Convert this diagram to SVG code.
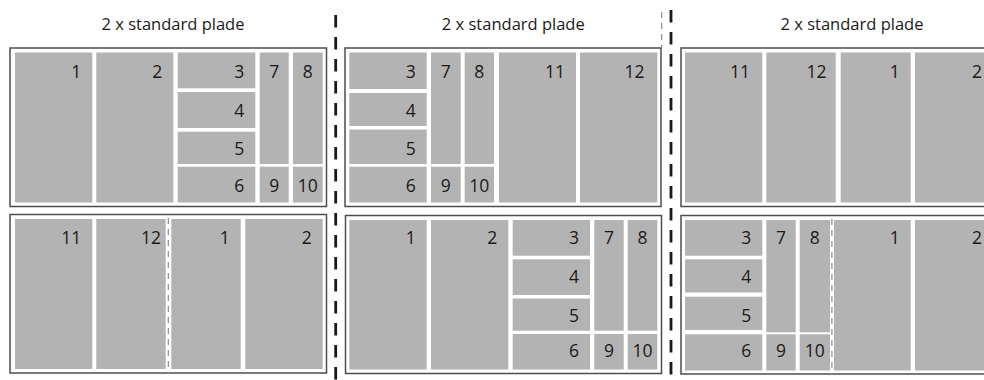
<svg xmlns="http://www.w3.org/2000/svg" width="984" height="380" viewBox="0 0 984 380">
<style>
.bg{fill:#ffffff}
.frame{fill:#ffffff;stroke:#4d4d4d;stroke-width:1.5}
.c{fill:#b3b3b3}
.t{font-family:"Open Sans","Liberation Sans",sans-serif;font-size:17.5px;fill:#1a1a1a;text-anchor:end}
.tc{font-family:"Open Sans","Liberation Sans",sans-serif;font-size:17.5px;fill:#1a1a1a;text-anchor:middle}
.title{font-family:"Open Sans","Liberation Sans",sans-serif;font-size:16.5px;fill:#1a1a1a;text-anchor:middle}
.sep{fill:none;stroke:#1a1a1a;stroke-width:2.8;stroke-dasharray:12.5 9.5}
.cut{fill:none;stroke:#8a8a8a;stroke-width:1.2;stroke-dasharray:6 5}
</style>
<rect class="bg" x="0" y="0" width="984" height="380"/>

<g id="titles">
<text class="title" x="173" y="30">2 x standard plade</text>
<text class="title" x="513.3" y="30">2 x standard plade</text>
<text class="title" x="852" y="30">2 x standard plade</text>
</g>

<!-- Panel 1 top -->
<g id="p1-top">
<rect class="frame" x="10" y="48" width="316.5" height="158.5"/>
<rect class="c" x="15" y="52.5" width="77.3" height="150"/>
<rect class="c" x="96.3" y="52.5" width="77" height="150"/>
<rect class="c" x="177.7" y="52.5" width="77.6" height="35.8"/>
<rect class="c" x="177.7" y="92" width="77.6" height="36"/>
<rect class="c" x="177.7" y="131.7" width="77.6" height="32.3"/>
<rect class="c" x="177.7" y="166.7" width="77.6" height="35.8"/>
<rect class="c" x="259.7" y="52.5" width="29" height="111.5"/>
<rect class="c" x="293" y="52.5" width="29.7" height="111.5"/>
<rect class="c" x="259.7" y="166.7" width="29" height="35.8"/>
<rect class="c" x="293" y="166.7" width="29.7" height="35.8"/>
<text class="t" x="81.3" y="78.3">1</text>
<text class="t" x="162.3" y="78.3">2</text>
<text class="t" x="244.3" y="78.3">3</text>
<text class="t" x="244.3" y="116.7">4</text>
<text class="t" x="244.3" y="155">5</text>
<text class="t" x="244.3" y="191.7">6</text>
<text class="tc" x="274.2" y="78.3">7</text>
<text class="tc" x="307.8" y="78.3">8</text>
<text class="tc" x="274.2" y="191.7">9</text>
<text class="tc" x="307.8" y="191.7">10</text>
</g>

<!-- Panel 1 bottom -->
<g id="p1-bottom">
<rect class="frame" x="10" y="214.5" width="316.5" height="158.5"/>
<rect class="c" x="15" y="219" width="77.3" height="150"/>
<rect class="c" x="96.3" y="219" width="69.4" height="150"/>
<rect class="c" x="171.3" y="219" width="69.4" height="150"/>
<rect class="c" x="245.3" y="219" width="77.4" height="150"/>
<text class="t" x="81.3" y="243.5">11</text>
<text class="t" x="161" y="243.5">12</text>
<text class="t" x="229.7" y="243.5">1</text>
<text class="t" x="311.7" y="243.5">2</text>
</g>

<!-- Panel 2 top -->
<g id="p2-top">
<rect class="frame" x="345" y="48" width="316" height="158.5"/>
<rect class="c" x="349.3" y="52.5" width="77.4" height="36.5"/>
<rect class="c" x="349.3" y="93" width="77.4" height="33"/>
<rect class="c" x="349.3" y="129.5" width="77.4" height="34.5"/>
<rect class="c" x="349.3" y="166.7" width="77.4" height="35.8"/>
<rect class="c" x="431" y="52.5" width="29.7" height="111.5"/>
<rect class="c" x="464.7" y="52.5" width="29.3" height="111.5"/>
<rect class="c" x="431" y="166.7" width="29.7" height="35.8"/>
<rect class="c" x="464.7" y="166.7" width="29.3" height="35.8"/>
<rect class="c" x="499" y="52.5" width="77" height="150"/>
<rect class="c" x="580" y="52.5" width="77.3" height="150"/>
<text class="t" x="415.7" y="78.3">3</text>
<text class="t" x="415.7" y="116.7">4</text>
<text class="t" x="415.7" y="155">5</text>
<text class="t" x="415.7" y="191.7">6</text>
<text class="tc" x="445.8" y="78.3">7</text>
<text class="tc" x="479.3" y="78.3">8</text>
<text class="tc" x="445.8" y="191.7">9</text>
<text class="tc" x="479.3" y="191.7">10</text>
<text class="t" x="565" y="78.3">11</text>
<text class="t" x="644.5" y="78.3">12</text>
</g>

<!-- Panel 2 bottom -->
<g id="p2-bottom">
<rect class="frame" x="345.5" y="215.5" width="316" height="158"/>
<rect class="c" x="349.3" y="220" width="77.4" height="149.5"/>
<rect class="c" x="431" y="220" width="77.3" height="149.5"/>
<rect class="c" x="512.7" y="220" width="77.3" height="35.7"/>
<rect class="c" x="512.7" y="259.3" width="77.3" height="35.7"/>
<rect class="c" x="512.7" y="298.5" width="77.3" height="32.2"/>
<rect class="c" x="512.7" y="334" width="77.3" height="35.5"/>
<rect class="c" x="594.3" y="220" width="29.4" height="110.7"/>
<rect class="c" x="627.7" y="220" width="29.6" height="110.7"/>
<rect class="c" x="594.3" y="334" width="29.4" height="35.5"/>
<rect class="c" x="627.7" y="334" width="29.6" height="35.5"/>
<text class="t" x="415.7" y="244">1</text>
<text class="t" x="497.3" y="244">2</text>
<text class="t" x="579" y="244.3">3</text>
<text class="t" x="579" y="283.3">4</text>
<text class="t" x="579" y="321.7">5</text>
<text class="t" x="579" y="357.3">6</text>
<text class="tc" x="609" y="244.3">7</text>
<text class="tc" x="642.5" y="244.3">8</text>
<text class="tc" x="609" y="357.3">9</text>
<text class="tc" x="642.5" y="357.3">10</text>
</g>

<!-- Panel 3 top -->
<g id="p3-top">
<rect class="frame" x="681" y="48" width="316" height="158.5"/>
<rect class="c" x="685" y="52.5" width="77.3" height="150"/>
<rect class="c" x="766.3" y="52.5" width="69.4" height="150"/>
<rect class="c" x="840.7" y="52.5" width="70" height="150"/>
<rect class="c" x="915" y="52.5" width="78" height="150"/>
<text class="t" x="750" y="78.3">11</text>
<text class="t" x="826.5" y="78.3">12</text>
<text class="t" x="899.7" y="78.3">1</text>
<text class="t" x="982" y="78.3">2</text>
</g>

<!-- Panel 3 bottom -->
<g id="p3-bottom">
<rect class="frame" x="681" y="215.5" width="316" height="158.5"/>
<rect class="c" x="685" y="220" width="77.3" height="35.7"/>
<rect class="c" x="685" y="259.3" width="77.3" height="33.2"/>
<rect class="c" x="685" y="296.7" width="77.3" height="33.3"/>
<rect class="c" x="685" y="334.3" width="77.3" height="36.2"/>
<rect class="c" x="766.3" y="220" width="29.4" height="112.3"/>
<rect class="c" x="799.7" y="220" width="30.3" height="112.3"/>
<rect class="c" x="766.3" y="334.3" width="29.4" height="36.2"/>
<rect class="c" x="799.7" y="334.3" width="30.3" height="36.2"/>
<rect class="c" x="834" y="220" width="76.7" height="150.5"/>
<rect class="c" x="915" y="220" width="78" height="150.5"/>
<text class="t" x="751.3" y="244.3">3</text>
<text class="t" x="751.3" y="283.3">4</text>
<text class="t" x="751.3" y="321.7">5</text>
<text class="t" x="751.3" y="357.3">6</text>
<text class="tc" x="781" y="244.3">7</text>
<text class="tc" x="814.8" y="244.3">8</text>
<text class="tc" x="781" y="357.3">9</text>
<text class="tc" x="814.8" y="357.3">10</text>
<text class="t" x="899.7" y="244.3">1</text>
<text class="t" x="982" y="244.3">2</text>
</g>

<g id="connectors">
<line class="sep" x1="335.7" y1="15" x2="335.7" y2="380"/>
<line class="sep" x1="671" y1="10" x2="671" y2="380"/>
<line class="cut" x1="661.7" y1="12" x2="661.7" y2="48"/>
<line class="cut" x1="168.3" y1="218" x2="168.3" y2="374"/>
<line class="cut" x1="831.9" y1="219" x2="831.9" y2="374.5"/>
</g>
</svg>
